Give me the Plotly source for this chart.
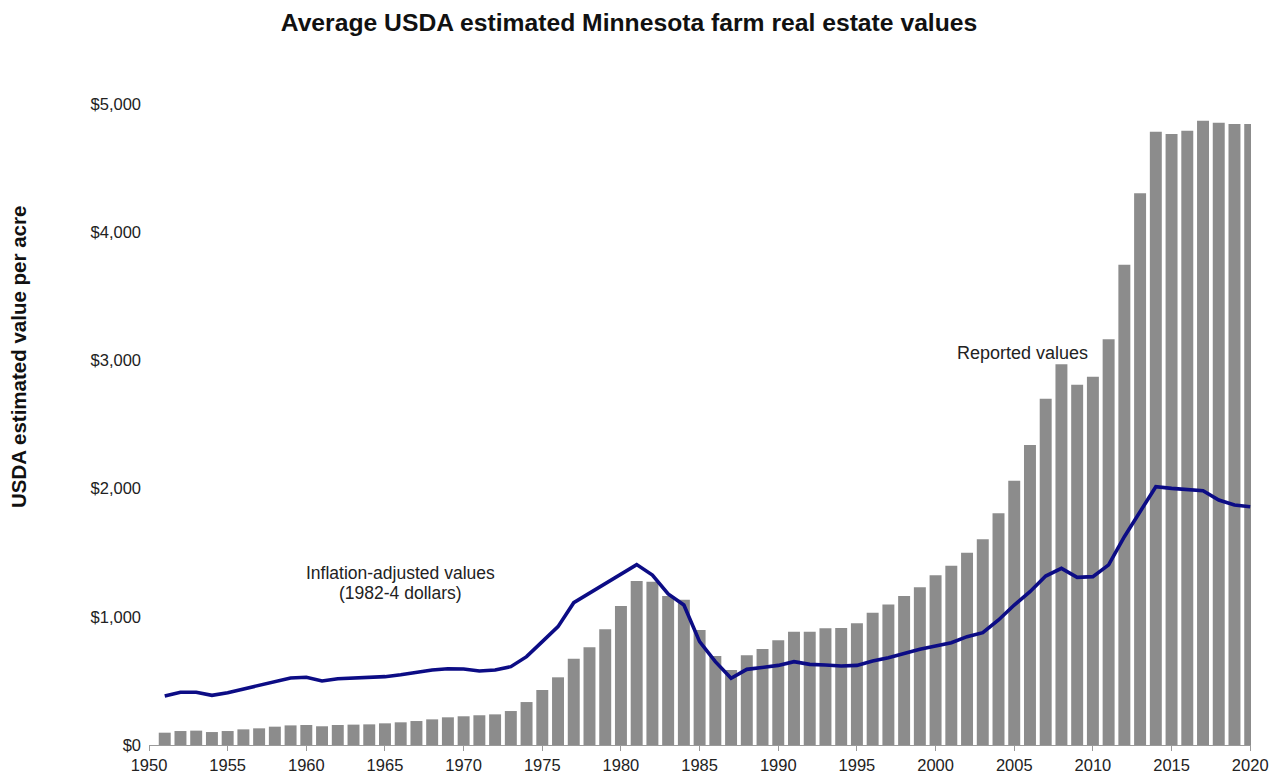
import plotly.graph_objects as go

years = list(range(1951, 2021))

reported_values = [
    96, 109, 112, 101, 109, 122, 130, 143, 153, 156,
    146, 156, 159, 161, 169, 177, 187, 200, 216, 224,
    232, 239, 265, 335, 429, 528, 673, 762, 902, 1084,
    1279, 1274, 1162, 1133, 897, 694, 585, 700, 749, 817,
    884, 884, 910, 913, 949, 1032, 1095, 1162, 1230, 1324,
    1399, 1500, 1604, 1807, 2062, 2340, 2701, 2970, 2811, 2873,
    3165, 3746, 4303, 4784, 4766, 4792, 4870, 4854, 4844, 4844,
]

inflation_adjusted = [
    383, 411, 411, 387, 408, 437, 460, 494, 523, 528,
    499, 517, 523, 528, 533, 548, 569, 585, 595, 593,
    577, 585, 611, 689, 806, 923, 1110, 1183, 1256, 1326,
    1407, 1326, 1178, 1092, 806, 650, 520, 590, 603, 621,
    650, 629, 624, 616, 621, 655, 681, 715, 746, 772,
    798, 845, 876, 975, 1092, 1196, 1318, 1378, 1308, 1313,
    1405, 1625, 1820, 2015, 2002, 1994, 1984, 1911, 1872, 1859,
]

x_tick_years = list(range(1950, 2021, 5))
y_tick_values = [0, 1000, 2000, 3000, 4000, 5000]
y_tick_labels = ["$0", "$1,000", "$2,000", "$3,000", "$4,000", "$5,000"]

font_family = "Liberation Sans, Arial, sans-serif"

W, H = 1270, 769

fig = go.Figure()
fig.add_trace(go.Bar(
    x=years, y=reported_values, marker=dict(color="#8c8c8c", line=dict(width=0)),
    name="Reported values", showlegend=False,
))
fig.add_trace(go.Scatter(
    x=years, y=inflation_adjusted, mode="lines",
    line=dict(color="#0c0c85", width=3.6),
    name="Inflation-adjusted values", showlegend=False,
))

fig.update_layout(
    width=W, height=H,
    margin=dict(l=141, r=27, t=96, b=32, autoexpand=False),
    paper_bgcolor="white", plot_bgcolor="white",
    bargap=0.24,
    font=dict(family=font_family, color="#222222", size=16.5),
    title=dict(
        text="<b>Average USDA estimated Minnesota farm real estate values</b>",
        font=dict(family=font_family, size=24.7, color="#111111"),
        xref="container", yref="container", x=(629 - 8) / W, y=1 - (22 - 8) / H,
        xanchor="center", yanchor="middle",
    ),
    xaxis=dict(
        range=[1950, 2020.05], tickmode="array", tickvals=x_tick_years,
        ticks="outside", ticklen=5, tickcolor="#9a9a9a",
        showline=True, linecolor="#9a9a9a", linewidth=1,
        showgrid=False, zeroline=False, automargin=False,
        tickfont=dict(size=16.5, color="#222222"),
    ),
    yaxis=dict(
        range=[0, 5000], tickmode="array", tickvals=y_tick_values, ticktext=y_tick_labels,
        ticks="", showline=False, showgrid=False, zeroline=False, automargin=False,
        ticklabelstandoff=7,
        tickfont=dict(size=16.5, color="#222222"),
    ),
    annotations=[
        dict(text="<b>USDA estimated value per acre</b>", textangle=-90,
             xref="paper", yref="paper", x=(18 - 149) / 1102, y=(745 - 357) / 641,
             xanchor="center", yanchor="middle", showarrow=False,
             font=dict(size=20.5, color="#111111")),
        dict(text="Inflation-adjusted values", xref="x", yref="y",
             x=1966.0, y=1342, showarrow=False, font=dict(size=17.5, color="#222222")),
        dict(text="(1982-4 dollars)", xref="x", yref="y",
             x=1966.0, y=1186, showarrow=False, font=dict(size=17.5, color="#222222")),
        dict(text="Reported values", xref="x", yref="y",
             x=2005.53, y=3058, showarrow=False, font=dict(size=18, color="#222222")),
    ],
)

fig.write_html("out.html")
